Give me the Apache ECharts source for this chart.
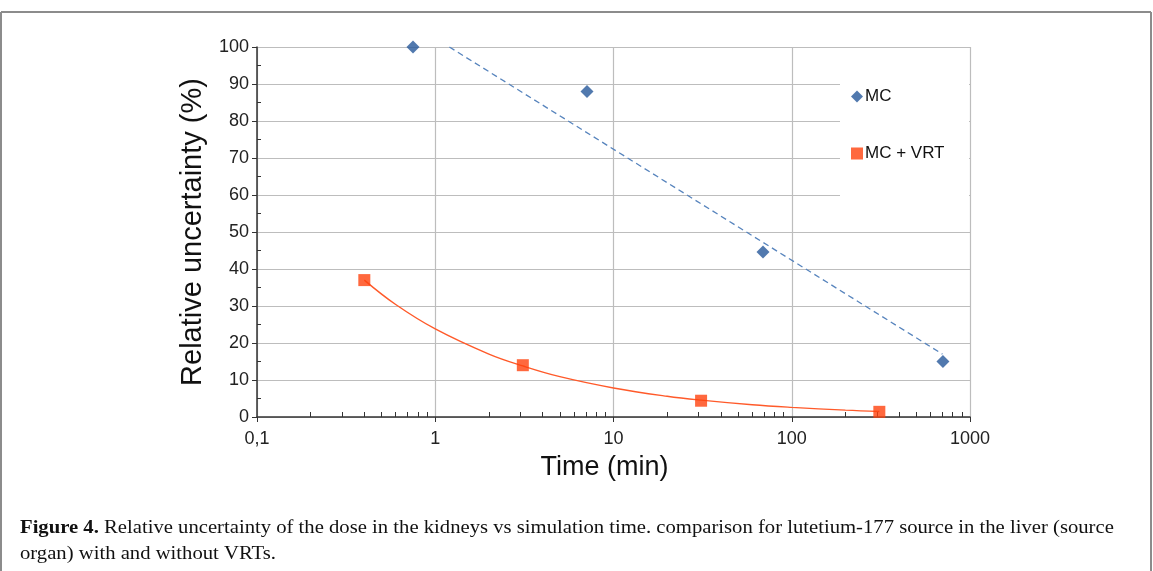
<!DOCTYPE html>
<html>
<head>
<meta charset="utf-8">
<script src="https://cdn.jsdelivr.net/npm/echarts@6/dist/echarts.min.js"></script>
<style>
html,body{margin:0;padding:0;background:#fff;}
#chart{width:1153px;height:571px;}
</style>
</head>
<body>
<div id="chart"></div>
<script>
// ---- data ----
const mcTime = [0.75, 7.1, 69, 705];
const mcUnc = [100, 88, 44.6, 15];
const vrtTime = [0.4, 3.1, 31, 310];
const vrtUnc = [37, 14, 4.4, 1.4];
// trend lines (as drawn in the figure)
const mcTrendTime = [1.2, 700];
const mcTrendUnc = [100, 17];
const vrtTrendTime = [0.4, 0.6, 1, 2, 3.1, 5, 10, 20, 31, 60, 100, 200, 310];
const vrtTrendUnc = [37, 30.4, 23.8, 17, 13.8, 10.9, 7.85, 5.6, 4.55, 3.3, 2.6, 1.85, 1.5];
// texts
const seriesNames = ['MC', 'MC + VRT'];
const xTitle = 'Time (min)';
const yTitle = 'Relative uncertainty (%)';
const captionBold = 'Figure 4.';
const captionLine1 = ' Relative uncertainty of the dose in the kidneys vs simulation time. comparison for lutetium-177 source in the liver (source';
const captionLine2 = 'organ) with and without VRTs.';

const zip = (a, b) => a.map((v, i) => [v, b[i]]);

const chart = echarts.init(document.getElementById('chart'), null, {renderer: 'canvas'});
const sans = 'Liberation Sans, Arial, sans-serif';
const option = {
  animation: false,
  backgroundColor: '#fff',
  grid: {left: 257, right: 183, top: 47, bottom: 154, containLabel: false},
  xAxis: {
    type: 'log', logBase: 10, min: 0.1, max: 1000,
    name: xTitle, nameLocation: 'middle', nameGap: 37,
    nameTextStyle: {fontFamily: sans, fontSize: 27, color: '#111', padding: [0, 18, 0, 0]},
    axisLine: {show: true, lineStyle: {color: '#333', width: 1.5}},
    axisTick: {show: true, length: 5, lineStyle: {color: '#333'}},
    minorTick: {show: true, splitNumber: 9, length: -5, lineStyle: {color: '#333'}},
    splitLine: {show: true, lineStyle: {color: '#bdbdbd', width: 1.2}},
    axisLabel: {
      fontFamily: sans, fontSize: 18, color: '#222', margin: 13,
      formatter: v => (v < 1 ? String(v).replace('.', ',') : String(v))
    }
  },
  yAxis: {
    type: 'value', min: 0, max: 100, interval: 10,
    name: yTitle, nameLocation: 'middle', nameGap: 50, nameRotate: 90,
    nameTextStyle: {fontFamily: sans, fontSize: 29, color: '#111'},
    axisLine: {show: true, lineStyle: {color: '#333', width: 1.5}},
    axisTick: {show: true, length: 5, lineStyle: {color: '#333'}},
    minorTick: {show: true, splitNumber: 2, length: -4, lineStyle: {color: '#333'}},
    splitLine: {show: true, lineStyle: {color: '#bdbdbd', width: 1.2}},
    axisLabel: {fontFamily: sans, fontSize: 18, color: '#222', margin: 8}
  },
  legend: {
    data: [
      {name: seriesNames[0], icon: 'diamond'},
      {name: seriesNames[1], icon: 'rect'}
    ],
    orient: 'vertical', left: 846, top: 83,
    itemWidth: 12, itemHeight: 12, itemGap: 40,
    textStyle: {fontFamily: sans, fontSize: 17, color: '#111', padding: [0, 0, 0, -3]},
    z: 10
  },
  graphic: [
    {type: 'rect', z: 1, shape: {x: 840, y: 48, width: 129, height: 183}, style: {fill: '#fff'}},
    {type: 'line', z: 0, shape: {x1: 1, y1: 12, x2: 1151, y2: 12}, style: {stroke: '#8c8c8c', lineWidth: 2}},
    {type: 'line', z: 0, shape: {x1: 1, y1: 12, x2: 1, y2: 571}, style: {stroke: '#8c8c8c', lineWidth: 2}},
    {type: 'line', z: 0, shape: {x1: 1151, y1: 12, x2: 1151, y2: 571}, style: {stroke: '#8c8c8c', lineWidth: 2}},
    {type: 'text', z: 5, x: 20, y: 519, scaleX: 1.088, style: {
      text: '{b|' + captionBold + '}' + captionLine1,
      font: '19px "Liberation Serif", serif', fill: '#111',
      rich: {b: {fontWeight: 'bold', fontFamily: 'Liberation Serif', fontSize: 19, fill: '#111'}}
    }},
    {type: 'text', z: 5, x: 20, y: 545, scaleX: 1.088, style: {
      text: captionLine2, font: '19px "Liberation Serif", serif', fill: '#111'
    }}
  ],
  series: [
    {
      name: 'MC trend', type: 'line', data: zip(mcTrendTime, mcTrendUnc),
      symbol: 'none', z: 3, silent: true,
      lineStyle: {color: '#5784bd', width: 1.3, type: [6, 4]}
    },
    {
      name: 'MC + VRT trend', type: 'line', data: zip(vrtTrendTime, vrtTrendUnc),
      symbol: 'none', smooth: 0.4, z: 3, silent: true,
      lineStyle: {color: '#ff5a2a', width: 1.4}
    },
    {
      name: seriesNames[0], type: 'scatter', data: zip(mcTime, mcUnc),
      symbol: 'diamond', symbolSize: 13, z: 4,
      itemStyle: {color: '#26579a'}
    },
    {
      name: seriesNames[1], type: 'scatter', data: zip(vrtTime, vrtUnc),
      symbol: 'rect', symbolSize: 12, z: 4,
      itemStyle: {color: '#ff420e'}
    }
  ]
};
chart.setOption(option);
</script>
</body>
</html>
